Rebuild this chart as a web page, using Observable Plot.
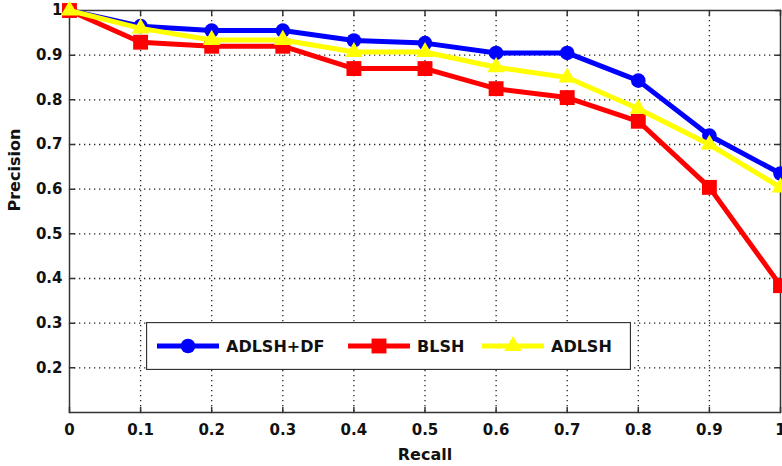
<!DOCTYPE html>
<html><head><meta charset="utf-8">
<script src="https://cdn.jsdelivr.net/npm/d3@7"></script>
<script src="https://cdn.jsdelivr.net/npm/@observablehq/plot@0.6"></script>
<style>
body{margin:0;background:#fff;}
#wrap{position:relative;width:782px;height:466px;}
#legend{position:absolute;left:146px;top:322px;}
</style>
</head><body>
<div id="wrap"></div>
<script>
const recall = [0, 0.1, 0.2, 0.3, 0.4, 0.5, 0.6, 0.7, 0.8, 0.9, 1];
const adlshDf = [1, 0.965, 0.955, 0.955, 0.933, 0.927, 0.905, 0.905, 0.843, 0.72, 0.635];
const blsh = [1, 0.929, 0.92, 0.92, 0.87, 0.87, 0.825, 0.805, 0.752, 0.604, 0.384];
const adlsh = [1, 0.96, 0.934, 0.934, 0.907, 0.907, 0.873, 0.85, 0.78, 0.70, 0.604];
const seriesNames = ["ADLSH+DF", "BLSH", "ADLSH"];
const seriesColors = ["#0000ff", "#ff0000", "#ffff00"];
const seriesSymbols = ["circle", "square", "triangle"];
const xTicks = [0, 0.1, 0.2, 0.3, 0.4, 0.5, 0.6, 0.7, 0.8, 0.9, 1];
const yTicks = [0.2, 0.3, 0.4, 0.5, 0.6, 0.7, 0.8, 0.9, 1];
const xGrid = [0.1, 0.2, 0.3, 0.4, 0.5, 0.6, 0.7, 0.8, 0.9];
const yGrid = [0.2, 0.3, 0.4, 0.5, 0.6, 0.7, 0.8, 0.9];

const fmt = d => d === 0 ? "0" : d === 1 ? "1" : d.toFixed(1);
const allSeries = [adlshDf, blsh, adlsh];
const rows = allSeries.map((vals, i) => recall.map((r, j) => ({x: r, y: vals[j], s: seriesNames[i]})));
const sym = {circle: 7.3, square: 8.4, triangle: 6.5};

const tickShape = {draw(context, l) { context.moveTo(0, 0); context.lineTo(0, -l); }};
const tickStyle = {shape: tickShape, length: 5, anchor: "start", stroke: "#333", strokeWidth: 1.5};
const gridStyle = {stroke: "#222", strokeOpacity: 1, strokeDasharray: "1.3,3.7", strokeWidth: 1.3};
const marks = [
  Plot.gridX(xGrid, gridStyle),
  Plot.gridY(yGrid, gridStyle),
  Plot.frame({stroke: "#333", strokeWidth: 1.5}),
  Plot.axisX(xTicks, {anchor: "bottom", tickSize: 0, tickPadding: 12, tickFormat: fmt, label: null, fontSize: 15}),
  Plot.axisY(yTicks, {anchor: "left", tickSize: 0, tickPadding: 7, tickFormat: fmt, label: null, fontSize: 15}),
  Plot.vector(xTicks, {x: d => d, frameAnchor: "bottom", rotate: 0, ...tickStyle}),
  Plot.vector(xTicks, {x: d => d, frameAnchor: "top", rotate: 180, ...tickStyle}),
  Plot.vector(yTicks, {y: d => d, frameAnchor: "left", rotate: 90, ...tickStyle}),
  Plot.vector(yTicks, {y: d => d, frameAnchor: "right", rotate: -90, ...tickStyle}),
  Plot.text(["Recall"], {frameAnchor: "bottom", dy: 47, lineAnchor: "bottom", fontSize: 16, fontWeight: "bold"}),
  Plot.text(["Precision"], {frameAnchor: "left", dx: -55, rotate: -90, fontSize: 16, fontWeight: "bold"})
];
rows.forEach((data, i) => {
  marks.push(Plot.line(data, {x: "x", y: "y", stroke: seriesColors[i], strokeWidth: 5}));
  marks.push(Plot.dot(data, {x: "x", y: "y", fill: seriesColors[i], symbol: seriesSymbols[i], r: sym[seriesSymbols[i]]}));
});

const chart = Plot.plot({
  width: 782, height: 466,
  marginLeft: 69, marginRight: 2, marginTop: 10, marginBottom: 54,
  style: {fontFamily: "DejaVu Sans", fontWeight: "bold", fontSize: "15px", color: "#111", background: "#fff"},
  x: {domain: [0, 1]},
  y: {domain: [0.1, 1]},
  marks
});
const wrap = document.getElementById("wrap");
wrap.appendChild(chart);

// legend
const leg = d3.select(wrap).append("div").attr("id", "legend");
const svg = leg.append("svg").attr("width", 485).attr("height", 48).style("display", "block");
svg.append("rect").attr("x", 0.5).attr("y", 0.5).attr("width", 484).attr("height", 47)
  .attr("fill", "#fff").attr("stroke", "#333").attr("stroke-width", 1.3);
const starts = [11, 202, 336];
seriesNames.forEach((name, i) => {
  const g = svg.append("g").attr("transform", `translate(${starts[i]},24)`);
  g.append("line").attr("x1", 0).attr("x2", 62).attr("y1", 0).attr("y2", 0)
    .attr("stroke", seriesColors[i]).attr("stroke-width", 5);
  const r = sym[seriesSymbols[i]];
  const shape = {circle: d3.symbolCircle, square: d3.symbolSquare, triangle: d3.symbolTriangle}[seriesSymbols[i]];
  g.append("path").attr("transform", "translate(31,0)")
    .attr("d", d3.symbol(shape, Math.PI * r * r)())
    .attr("fill", seriesColors[i]);
  g.append("text").attr("x", 69).attr("y", 0).attr("dy", "0.36em")
    .attr("font-family", "DejaVu Sans").attr("font-weight", "bold").attr("font-size", 16)
    .attr("fill", "#111").text(name);
});
</script>
</body></html>
